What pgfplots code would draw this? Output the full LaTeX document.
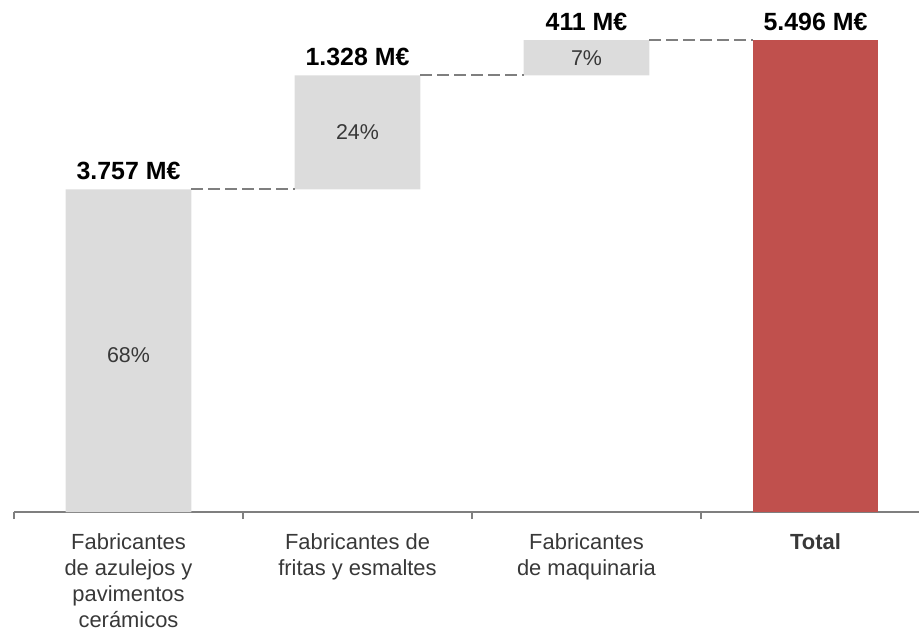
\documentclass[border=0pt]{standalone}
\usepackage{fontspec}
\setmainfont{Liberation Sans}
\usepackage{pgfplots}
\pgfplotsset{compat=1.18}
\definecolor{barg}{HTML}{DCDCDC}
\definecolor{barr}{HTML}{C0504D}
\definecolor{axg}{HTML}{7F7F7F}
\definecolor{txt}{HTML}{383838}
\begin{document}
\begin{tikzpicture}
\begin{axis}[
  scale only axis,
  width=905bp, height=512bp,
  xmin=-0.5, xmax=3.452,
  ymin=0, ymax=5962,
  axis x line=bottom, axis y line=none,
  axis line style={axg, line width=1.5bp, -},
  ybar stacked, bar width=0.55,
  xtick={0,1,2,3},
  xticklabels={{Fabricantes\\de azulejos y\\pavimentos\\cerámicos},{Fabricantes de\\fritas y esmaltes},{Fabricantes\\de maquinaria},{\textbf{Total}}},
  x tick label style={align=center, font=\fontsize{22}{26}\selectfont, text=txt, yshift=-18bp},
  major tick length=0pt,
  minor xtick={-0.5,0.5,1.5,2.5},
  minor tick length=7bp,
  tick align=outside,
  minor tick style={axg, line width=1.2bp},
  clip=false,
]
\addplot[draw=none, fill=none] coordinates {(0,0) (1,3757) (2,5085) (3,0)};
\addplot[draw=none, fill=barg] coordinates {(0,3757) (1,1328) (2,411) (3,0)};
\addplot[draw=none, fill=barr] coordinates {(0,0) (1,0) (2,0) (3,5496)};
\coordinate (O) at (rel axis cs:0,0);
\end{axis}
\begin{axis}[
  scale only axis,
  width=905bp, height=512bp,
  xmin=-0.5, xmax=3.452,
  ymin=0, ymax=5962,
  hide axis, clip=false,
]
\addplot[axg, line width=2.2bp, dash pattern=on 12bp off 5bp] coordinates {(0.275,3757) (0.725,3757)};
\addplot[axg, line width=2.2bp, dash pattern=on 12bp off 5bp] coordinates {(1.275,5085) (1.725,5085)};
\addplot[axg, line width=2.2bp, dash pattern=on 12bp off 5bp] coordinates {(2.275,5496) (2.725,5496)};
\begin{scope}[every node/.style={font=\fontsize{25}{28}\selectfont\bfseries, anchor=base}]
\node at (axis cs:0,3757) [yshift=10bp] {3.757 M€};
\node at (axis cs:1,5085) [yshift=10bp] {1.328 M€};
\node at (axis cs:2,5496) [yshift=10bp] {411 M€};
\node at (axis cs:3,5496) [yshift=10bp] {5.496 M€};
\end{scope}
\begin{scope}[every node/.style={font=\fontsize{21.5}{24}\selectfont, text=txt, anchor=center}]
\node at (axis cs:0,1828) {68\%};
\node at (axis cs:1,4421) {24\%};
\node at (axis cs:2,5290) {7\%};
\end{scope}
\end{axis}
\pgfresetboundingbox
\path (O) ++(-14bp,-124bp) rectangle ++(919bp,636bp);
\end{tikzpicture}
\end{document}
